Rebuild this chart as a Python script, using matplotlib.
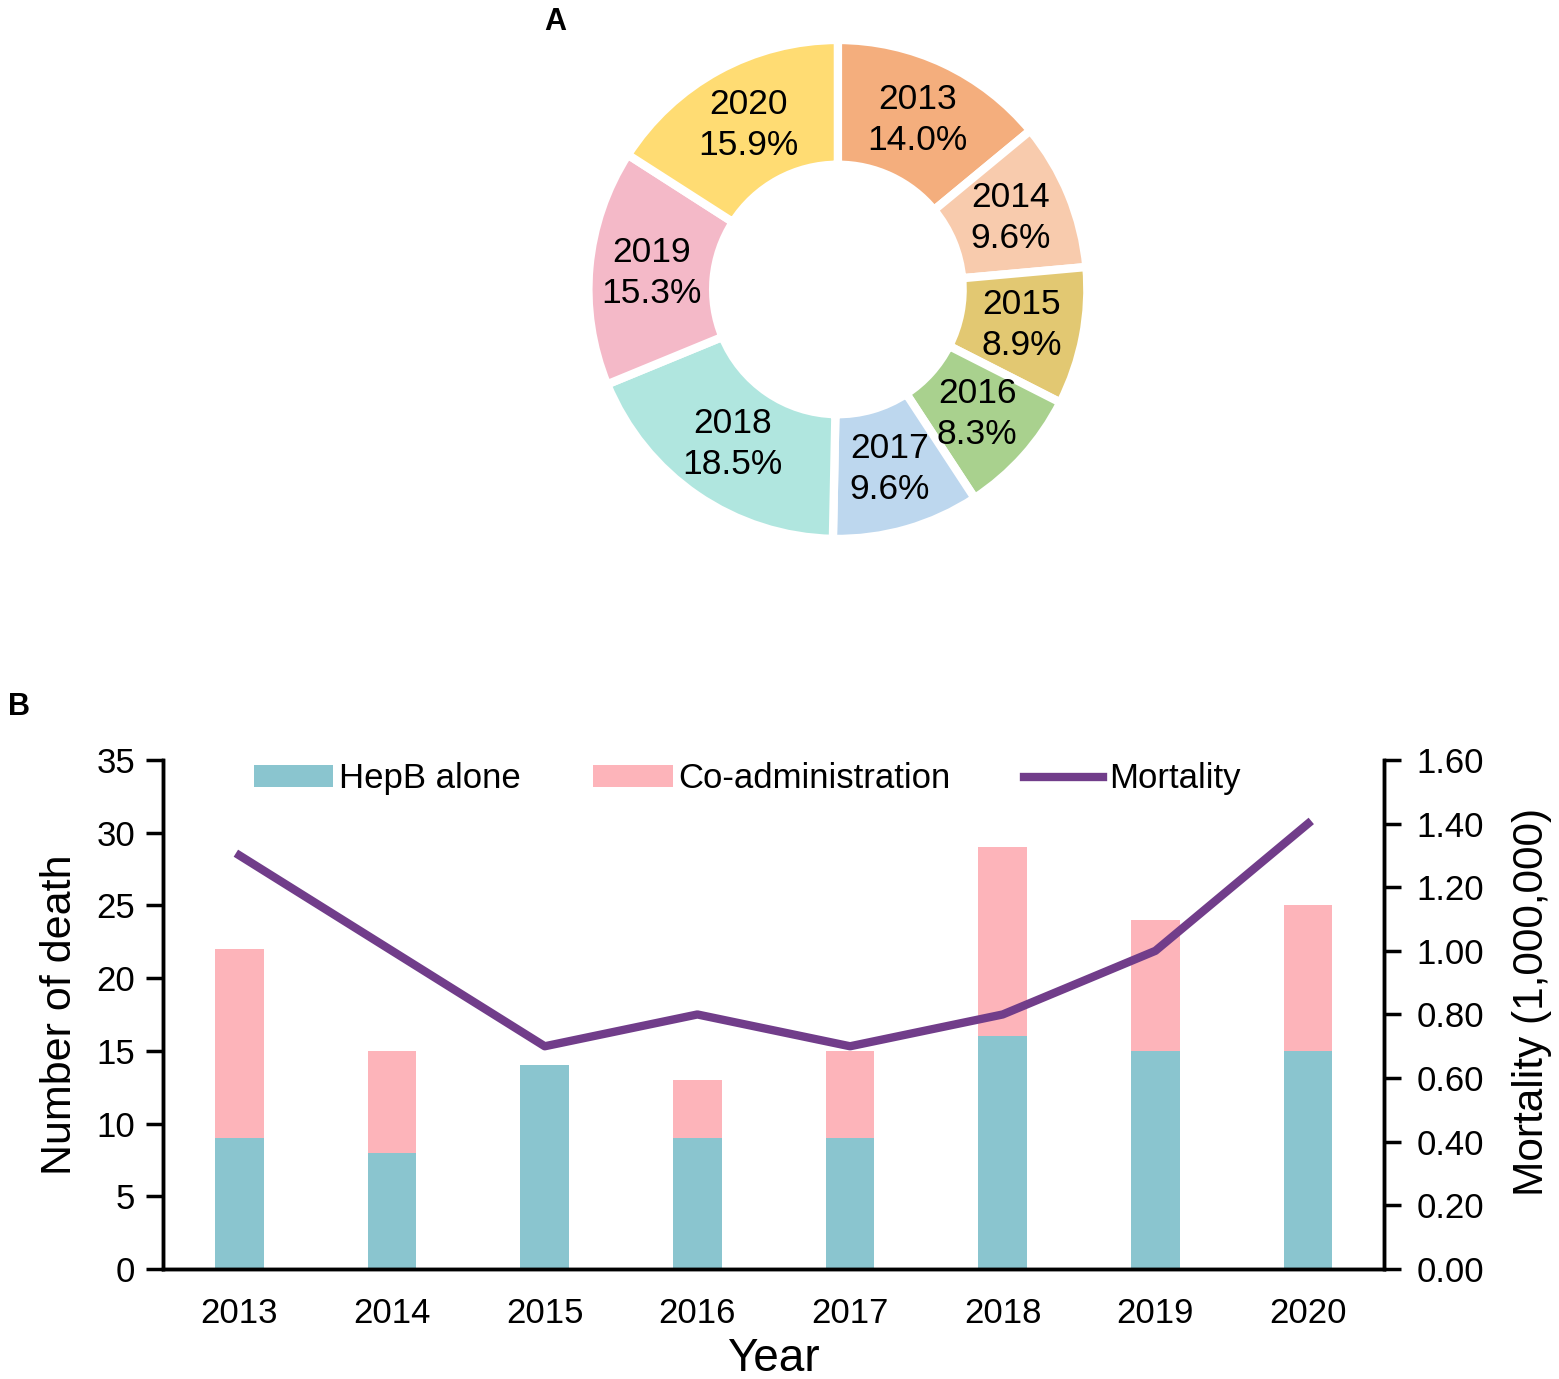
import matplotlib.pyplot as plt
import numpy as np

plt.rcParams['font.family'] = ['Liberation Sans', 'DejaVu Sans']

years = ['2013', '2014', '2015', '2016', '2017', '2018', '2019', '2020']
hepb_alone = [9, 8, 14, 9, 9, 16, 15, 15]
co_admin = [13, 7, 0, 4, 6, 13, 9, 10]
mortality = [1.30, 1.00, 0.70, 0.80, 0.70, 0.80, 1.00, 1.40]

pie_colors = ['#F4AE7D', '#F8CBAD', '#E2C872', '#A9D18E',
              '#BDD7EE', '#B0E6DF', '#F4B9C8', '#FFDC73']

totals = np.array(hepb_alone) + np.array(co_admin)
shares = totals / totals.sum() * 100

fig = plt.figure(figsize=(15.59, 13.79), dpi=100)

# A: donut of deaths per year
ax_pie = fig.add_axes([0.379, 0.611, 0.3169, 0.3582])
wedges, _ = ax_pie.pie(totals, colors=pie_colors, startangle=90, counterclock=False,
                       radius=1, wedgeprops=dict(width=0.5, edgecolor='white', linewidth=6))
for w, yr, pct in zip(wedges, years, shares):
    ang = np.deg2rad((w.theta1 + w.theta2) / 2)
    ax_pie.text(0.75 * np.cos(ang), 0.75 * np.sin(ang), f'{yr}\n{pct:.1f}%',
                ha='center', va='center', fontsize=25.5, linespacing=1.3)
ax_pie.set_xlim(-0.99, 0.99)
ax_pie.set_ylim(-0.99, 0.99)
fig.text(0.356, 0.984, 'A', fontsize=22, fontweight='bold', ha='center', va='center')

# B: stacked bars plus mortality line
ax = fig.add_axes([0.1046, 0.0798, 0.7834, 0.3691])
x = np.arange(len(years))
ax.bar(x, hepb_alone, width=0.32, color='#8AC5CF', label='HepB alone')
ax.bar(x, co_admin, width=0.32, bottom=hepb_alone, color='#FDB4BA', label='Co-administration')
ax.set_xlim(-0.5, len(years) - 0.5)
ax.set_ylim(0, 35)
ax.set_yticks(range(0, 36, 5))
ax.set_xticks(x)
ax.set_xticklabels(years)
ax.tick_params(axis='y', direction='out', length=12, width=2.5, labelsize=25, pad=8)
ax.tick_params(axis='x', length=0, labelsize=25, pad=20)
ax.set_ylabel('Number of death', fontsize=31, labelpad=12)
ax.set_xlabel('Year', fontsize=33, labelpad=5)
ax.spines['top'].set_visible(False)
for s in ['left', 'bottom', 'right']:
    ax.spines[s].set_linewidth(2.5)

ax2 = ax.twinx()
ax2.plot(x, mortality, color='#713D8A', linewidth=6, label='Mortality')
ax2.set_ylim(0, 1.6)
ax2.set_yticks(np.arange(0, 1.61, 0.2))
ax2.set_yticklabels([f'{v:.2f}' for v in np.arange(0, 1.61, 0.2)])
ax2.tick_params(axis='y', direction='out', length=12, width=2.5, labelsize=25, pad=11)
ax2.set_ylabel('Mortality (1,000,000)', fontsize=30.5, labelpad=20)
ax2.yaxis.label.set_y(0.524)
ax2.spines['top'].set_visible(False)
for s in ['left', 'bottom', 'right']:
    ax2.spines[s].set_linewidth(2.5)

h1, l1 = ax.get_legend_handles_labels()
h2, l2 = ax2.get_legend_handles_labels()
ax.legend(h1 + h2, l1 + l2, loc='center', bbox_to_anchor=(0.478, 0.963), ncol=3,
          frameon=False, fontsize=25, handlelength=2.3, handleheight=0.6,
          handletextpad=0.15, columnspacing=2.1)

fig.text(0.012, 0.487, 'B', fontsize=22, fontweight='bold', ha='center', va='center')

fig.savefig('out.png', dpi=100)
